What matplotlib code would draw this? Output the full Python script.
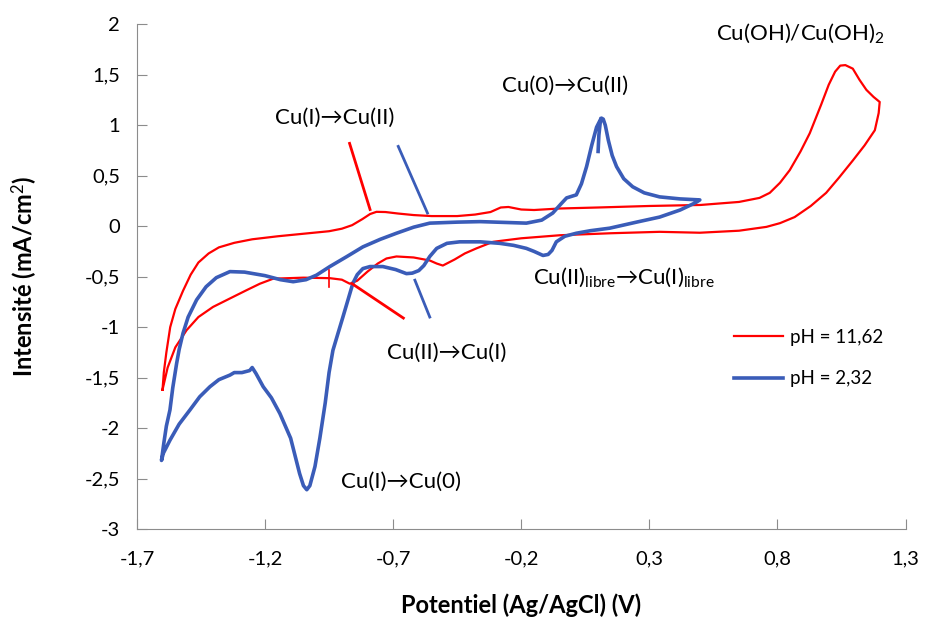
import numpy as np
import matplotlib
matplotlib.use("Agg")
import matplotlib.pyplot as plt
from matplotlib.ticker import FuncFormatter, MultipleLocator

plt.rcParams['font.family'] = ['Lato', 'DejaVu Sans']
plt.rcParams['mathtext.fontset'] = 'custom'
plt.rcParams['mathtext.rm'] = 'Lato'
plt.rcParams['mathtext.it'] = 'Lato:italic'
plt.rcParams['mathtext.bf'] = 'Lato:bold'

# pH = 11,62 (red) - potential (V) / current density (mA/cm2)
red_E = [-1.60, -1.595, -1.585, -1.57, -1.55, -1.52, -1.49, -1.46, -1.42, -1.38,
         -1.32, -1.25, -1.15, -1.05, -0.95, -0.90, -0.86, -0.82, -0.79, -0.765,
         -0.73, -0.68, -0.62, -0.55, -0.45, -0.38, -0.32, -0.28, -0.25, -0.20,
         -0.15, -0.05, 0.10, 0.30, 0.50, 0.65, 0.73, 0.77, 0.81, 0.848,
         0.89, 0.926, 0.97, 1.00, 1.025, 1.045, 1.065, 1.094, 1.12, 1.147,
         1.175, 1.199,
         1.195, 1.18, 1.14, 1.094, 1.04, 0.99, 0.93, 0.867, 0.81, 0.757,
         0.65, 0.497, 0.34, 0.15, -0.05, -0.20, -0.31, -0.375, -0.42, -0.46,
         -0.506, -0.53, -0.557, -0.62, -0.687, -0.726, -0.76, -0.80, -0.84, -0.869,
         -0.90, -0.947, -1.05, -1.168, -1.22, -1.272, -1.34, -1.403, -1.46, -1.506,
         -1.55, -1.58, -1.60]
red_I = [-1.62, -1.45, -1.25, -1.00, -0.82, -0.64, -0.48, -0.36, -0.27, -0.21,
         -0.165, -0.13, -0.10, -0.075, -0.05, -0.025, 0.01, 0.07, 0.12, 0.142,
         0.14, 0.125, 0.11, 0.10, 0.10, 0.115, 0.14, 0.185, 0.19, 0.165,
         0.16, 0.175, 0.185, 0.20, 0.21, 0.24, 0.28, 0.33, 0.43, 0.555,
         0.74, 0.92, 1.20, 1.40, 1.53, 1.59, 1.595, 1.56, 1.45, 1.35,
         1.28, 1.23,
         1.12, 0.95, 0.80, 0.65, 0.48, 0.33, 0.20, 0.09, 0.03, -0.007,
         -0.045, -0.065, -0.056, -0.07, -0.09, -0.12, -0.155, -0.22, -0.27, -0.33,
         -0.39, -0.37, -0.34, -0.31, -0.30, -0.32, -0.37, -0.45, -0.54, -0.57,
         -0.53, -0.515, -0.51, -0.52, -0.57, -0.634, -0.72, -0.80, -0.90, -1.03,
         -1.20, -1.40, -1.62]

# pH = 2,32 (blue)
blue_E = [0.10, 0.103, 0.108, 0.113, 0.12, 0.128, 0.14, 0.155, 0.172, 0.20,
          0.235, 0.28, 0.34, 0.42, 0.497,
          0.485, 0.47, 0.42, 0.34, 0.25, 0.145, 0.07, 0.015, -0.03, -0.063,
          -0.08, -0.095, -0.115, -0.15, -0.18, -0.23, -0.284, -0.36, -0.44, -0.49,
          -0.53, -0.557, -0.58, -0.60, -0.625, -0.648, -0.69, -0.74, -0.79, -0.818,
          -0.84, -0.857, -0.875, -0.896, -0.915, -0.935, -0.95, -0.965, -0.986, -1.005,
          -1.025, -1.037, -1.05, -1.065, -1.077, -1.10, -1.142, -1.175, -1.207, -1.235,
          -1.25, -1.26, -1.29, -1.32, -1.337, -1.38, -1.415, -1.455, -1.493, -1.535,
          -1.571, -1.597, -1.604,
          -1.595, -1.585, -1.571, -1.56, -1.545, -1.535, -1.52, -1.50, -1.467, -1.43,
          -1.39, -1.337, -1.28, -1.20, -1.14, -1.09, -1.04, -0.999, -0.947, -0.88,
          -0.818, -0.75, -0.687, -0.62, -0.557, -0.45, -0.36, -0.18, -0.12, -0.077,
          -0.045, -0.023, 0.015, 0.035, 0.055, 0.075, 0.094, 0.11]
blue_I = [0.74, 0.90, 1.02, 1.07, 1.06, 1.00, 0.85, 0.70, 0.59, 0.47,
          0.39, 0.33, 0.29, 0.27, 0.26,
          0.24, 0.22, 0.16, 0.09, 0.04, -0.02, -0.045, -0.07, -0.10, -0.155,
          -0.24, -0.28, -0.29, -0.25, -0.22, -0.19, -0.17, -0.155, -0.155, -0.17,
          -0.22, -0.30, -0.39, -0.44, -0.465, -0.47, -0.43, -0.40, -0.40, -0.42,
          -0.48, -0.565, -0.72, -0.90, -1.06, -1.23, -1.45, -1.75, -2.10, -2.38,
          -2.57, -2.61, -2.57, -2.45, -2.33, -2.10, -1.855, -1.70, -1.59, -1.46,
          -1.40, -1.43, -1.45, -1.45, -1.475, -1.52, -1.59, -1.69, -1.82, -1.96,
          -2.12, -2.25, -2.32,
          -2.15, -1.98, -1.82, -1.60, -1.36, -1.22, -1.06, -0.90, -0.73, -0.60,
          -0.51, -0.45, -0.455, -0.49, -0.53, -0.55, -0.53, -0.485, -0.40, -0.30,
          -0.205, -0.13, -0.07, -0.01, 0.03, 0.04, 0.045, 0.03, 0.06, 0.13,
          0.22, 0.28, 0.31, 0.42, 0.59, 0.80, 0.98, 1.06]

x_ticks = [-1.7, -1.2, -0.7, -0.2, 0.3, 0.8, 1.3]

red = '#ff0000'
blue = '#3a5cb8'

fig = plt.figure(figsize=(9.25, 6.21), dpi=100)
ax = fig.add_axes([0.148, 0.148, 0.831, 0.813])

ax.plot(red_E, red_I, color=red, lw=1.6, label='pH = 11,62')
ax.plot(blue_E, blue_I, color=blue, lw=2.6, label='pH = 2,32')

# pointer lines
ax.plot([-0.87, -0.79], [0.82, 0.165], color=red, lw=2)
ax.plot([-0.86, -0.66], [-0.57, -0.91], color=red, lw=2)
ax.plot([-0.95, -0.95], [-0.43, -0.60], color=red, lw=1.2)
ax.plot([-0.68, -0.566], [0.79, 0.13], color=blue, lw=2)
ax.plot([-0.615, -0.557], [-0.535, -0.90], color=blue, lw=2)

fs = 16
ax.text(0.887, 1.91, 'Cu(OH)/Cu(OH)$_2$', fontsize=fs, ha='center', va='center')
ax.text(-0.03, 1.386, 'Cu(0)→Cu(II)', fontsize=fs, ha='center', va='center')
ax.text(-0.927, 1.07, 'Cu(I)→Cu(II)', fontsize=fs, ha='center', va='center')
ax.text(-0.155, -0.505, r'Cu(II)$_{\mathrm{libre}}$→Cu(I)$_{\mathrm{libre}}$',
        fontsize=fs, ha='left', va='center')
ax.text(-0.49, -1.25, 'Cu(II)→Cu(I)', fontsize=fs, ha='center', va='center')
ax.text(-0.67, -2.53, 'Cu(I)→Cu(0)', fontsize=fs, ha='center', va='center')

ax.set_xlim(-1.7, 1.3)
ax.set_ylim(-3, 2)
ax.set_xticks(x_ticks)
ax.yaxis.set_major_locator(MultipleLocator(0.5))


def comma(v, pos):
    s = ('%.1f' % v).rstrip('0').rstrip('.')
    if s == '-0':
        s = '0'
    return s.replace('.', ',')


ax.xaxis.set_major_formatter(FuncFormatter(comma))
ax.yaxis.set_major_formatter(FuncFormatter(comma))

for side in ['top', 'right']:
    ax.spines[side].set_visible(False)
for side in ['left', 'bottom']:
    ax.spines[side].set_color('#8c8c8c')
ax.tick_params(direction='in', length=7, color='#8c8c8c', labelsize=14.5)
ax.tick_params(axis='x', pad=15)
ax.tick_params(axis='y', pad=12)

ax.set_xlabel('Potentiel (Ag/AgCl) (V)', fontsize=17, fontweight='bold')
ax.set_ylabel('Intensité (mA/cm$^2$)', fontsize=17, fontweight='bold')
ax.xaxis.set_label_coords(0.5, -0.151)
ax.xaxis.label.set_va('center')
ax.yaxis.set_label_coords(-0.146, 0.5)
ax.yaxis.label.set_va('center')

ax.legend(loc='upper left', bbox_to_anchor=(0.755, 0.43), frameon=False,
          fontsize=13.5, labelspacing=1.3, handlelength=2.6, handletextpad=0.4)

fig.savefig('out.png', dpi=100)
